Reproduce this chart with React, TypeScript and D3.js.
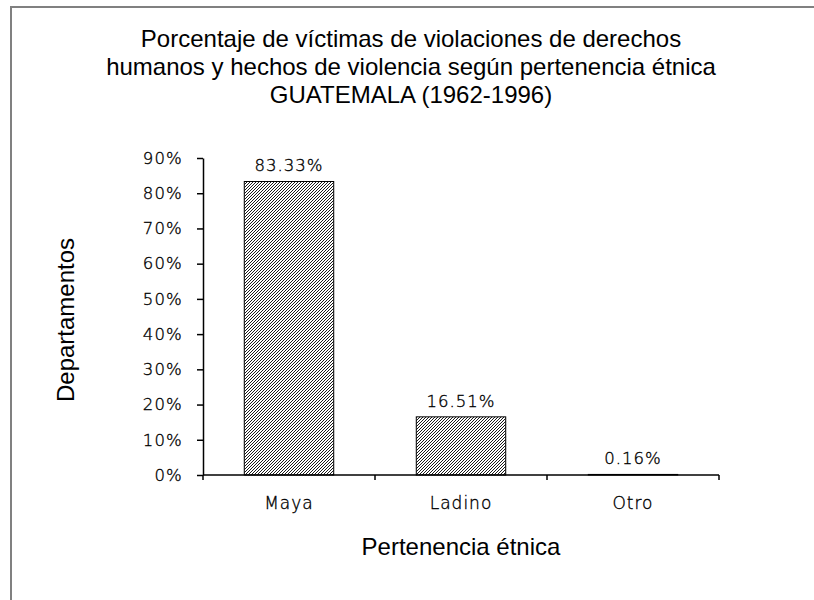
import React, { useRef, useEffect } from "react"
import * as d3 from "d3"

const categories = ["Maya", "Ladino", "Otro"]
const values = [0.8333, 0.1651, 0.0016]
const valueLabels = ["83.33%", "16.51%", "0.16%"]
const yTicks = [0, 0.1, 0.2, 0.3, 0.4, 0.5, 0.6, 0.7, 0.8, 0.9]
const titleLines = [
  "Porcentaje de víctimas de violaciones de derechos",
  "humanos y hechos de violencia según pertenencia étnica",
  "GUATEMALA (1962-1996)",
]

const W = 814
const H = 600
const gothic = "'DejaVu Sans', sans-serif"
const arial = "'Liberation Sans', Arial, sans-serif"

const App = () => {
  const ref = useRef<SVGSVGElement | null>(null)

  useEffect(() => {
    document.body.style.margin = "0"
    const svg = d3.select(ref.current)
    svg.selectAll("*").remove()

    const defs = svg.append("defs")
    const pat = defs.append("pattern")
      .attr("id", "hatch")
      .attr("patternUnits", "userSpaceOnUse")
      .attr("width", 3)
      .attr("height", 3)
    pat.append("rect").attr("width", 3).attr("height", 3).attr("fill", "#fff")
    pat.append("path")
      .attr("d", "M-1,1 L1,-1 M0,3 L3,0 M2,4 L4,2")
      .attr("stroke", "#000")
      .attr("stroke-width", 0.9)

    // frame (right and bottom edges fall outside the picture)
    svg.append("rect")
      .attr("x", 11).attr("y", 7)
      .attr("width", W).attr("height", H)
      .attr("fill", "#fff")
      .attr("stroke", "#808080")
      .attr("stroke-width", 2)

    const x = d3.scaleBand()
      .domain(categories)
      .range([203, 719])
      .paddingInner(0.48)
      .paddingOuter(0.24)

    const y = d3.scaleLinear()
      .domain([0, 0.9])
      .range([475, 158])

    // title
    const title = svg.append("text")
      .attr("text-anchor", "middle")
      .attr("font-family", arial)
      .attr("font-size", 24)
      .attr("fill", "#000")
    titleLines.forEach((t, i) => {
      title.append("tspan")
        .attr("x", 411).attr("y", 47 + i * 28)
        .text(t)
    })

    // thin geometric labels, darkened a little
    const thin = (sel: any, size: number, spacing: number) =>
      sel.attr("font-family", gothic)
        .attr("font-weight", 200)
        .attr("font-size", size)
        .attr("letter-spacing", spacing)
        .attr("fill", "#000")
        .attr("stroke", "#000")
        .attr("stroke-width", 0.35)

    // y axis
    const yAxis = svg.append("g")
      .attr("transform", "translate(203,0)")
      .call(d3.axisLeft(y)
        .tickValues(yTicks)
        .tickSize(6)
        .tickSizeOuter(0)
        .tickPadding(14)
        .tickFormat(d => d3.format(".0%")(d as number)))
    yAxis.select(".domain").attr("stroke", "#000").attr("stroke-width", 1.5)
    yAxis.selectAll(".tick line").attr("stroke", "#000").attr("stroke-width", 1.5)
    thin(yAxis.selectAll(".tick text"), 16.5, 1.2)

    // bars
    svg.append("g")
      .selectAll("rect")
      .data(values)
      .join("rect")
      .attr("x", (d, i) => x(categories[i])!)
      .attr("y", d => y(d))
      .attr("width", x.bandwidth())
      .attr("height", d => y(0) - y(d))
      .attr("fill", "url(#hatch)")
      .attr("stroke", "#000")
      .attr("stroke-width", 1)

    // x axis
    const boundaries = categories.map(c => x(c)! + x.bandwidth() + (x.step() - x.bandwidth()) / 2)
    svg.append("line")
      .attr("x1", 203).attr("x2", 719)
      .attr("y1", y(0)).attr("y2", y(0))
      .attr("stroke", "#000").attr("stroke-width", 1.5)
    svg.append("g")
      .selectAll("line")
      .data([203, ...boundaries])
      .join("line")
      .attr("x1", d => d).attr("x2", d => d)
      .attr("y1", y(0)).attr("y2", y(0) + 5)
      .attr("stroke", "#000").attr("stroke-width", 1.5)

    thin(svg.append("g")
      .selectAll("text")
      .data(categories)
      .join("text")
      .attr("x", d => x(d)! + x.bandwidth() / 2)
      .attr("y", 509)
      .attr("text-anchor", "middle")
      .text(d => d), 17, 1)

    // value labels
    thin(svg.append("g")
      .selectAll("text")
      .data(values)
      .join("text")
      .attr("x", (d, i) => x(categories[i])! + x.bandwidth() / 2)
      .attr("y", d => y(d) - 10)
      .attr("text-anchor", "middle")
      .text((d, i) => valueLabels[i]), 16.5, 1)

    // axis titles
    svg.append("text")
      .attr("transform", `translate(74,320) rotate(-90)`)
      .attr("text-anchor", "middle")
      .attr("font-family", arial)
      .attr("font-size", 24)
      .text("Departamentos")

    svg.append("text")
      .attr("x", 461)
      .attr("y", 555)
      .attr("text-anchor", "middle")
      .attr("font-family", arial)
      .attr("font-size", 24)
      .text("Pertenencia étnica")
  }, [])

  return <svg ref={ref} width={W} height={H} style={{ display: "block" }} />
}

export default App
